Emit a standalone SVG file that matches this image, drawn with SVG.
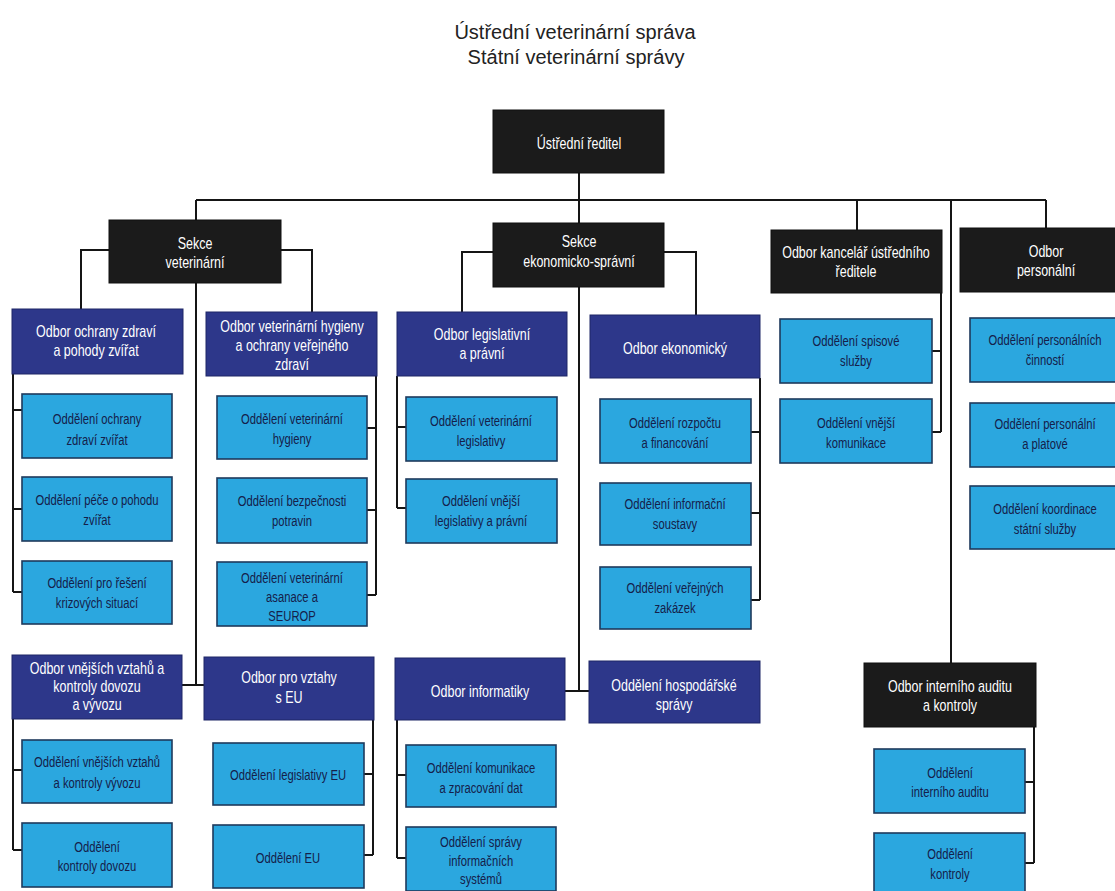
<svg xmlns="http://www.w3.org/2000/svg" width="1115" height="891" viewBox="0 0 1115 891">
<style>
.bg{fill:#ffffff}
.blk{fill:#1b1b1b;stroke:#111;stroke-width:1}
.nav{fill:#2d378a;stroke:#1f2766;stroke-width:1}
.lb{fill:#2ba7df;stroke:#1f3a5c;stroke-width:1.6}
.ttl{font-family:"Liberation Sans",Arial,sans-serif;font-size:20px;fill:#222;text-anchor:middle}
.th{font-family:"Liberation Sans",Arial,sans-serif;font-size:16px;fill:#ffffff;text-anchor:middle;dominant-baseline:central}
.tl{font-family:"Liberation Sans",Arial,sans-serif;font-size:14.6px;fill:#15204a;text-anchor:middle;dominant-baseline:central}
.con{fill:none;stroke:#151515;stroke-width:2}
</style>
<rect class="bg" x="0" y="0" width="1115" height="891"/>
<g id="title">
<text class="ttl" x="575" y="39">Ústřední veterinární správa</text>
<text class="ttl" x="576" y="64">Státní veterinární správy</text>
</g>
<g id="connectors">
<path class="con" d="M196,200 H1046 M579,173 V223 M196,200 V220 M857,200 V230 M1046,200 V228 M951,200 V663"/>
<path class="con" d="M109,250 H81 V309 M281,250 H312 V312 M196,283 V685 M182,685 H204"/>
<path class="con" d="M493,252 H462 V312 M664,252 H696 V315 M579,287 V691 M565,691 H589"/>
<path class="con" d="M13,374 V592 M13,410 H22 M13,509 H22 M13,592 H22"/>
<path class="con" d="M376,376 V595 M367,428 H376 M367,510 H376 M367,595 H376"/>
<path class="con" d="M397,376 V508 M397,427 H406 M397,508 H406"/>
<path class="con" d="M760,378 V600 M751,432 H760 M751,513 H760 M751,600 H760"/>
<path class="con" d="M941,293 V432 M932,351 H941 M932,432 H941"/>
<path class="con" d="M13,719 V850 M13,770 H22 M13,850 H22"/>
<path class="con" d="M373,720 V855 M364,774 H373 M364,855 H373"/>
<path class="con" d="M397,720 V858 M397,775 H406 M397,858 H406"/>
<path class="con" d="M1034,727 V863 M1025,782 H1034 M1025,863 H1034"/>
</g>
<g id="n-reditel"><rect class="blk" x="493" y="110" width="171" height="63"/>
<text class="th" transform="translate(579,0) scale(0.78,1)"><tspan x="0" y="143">Ústřední ředitel</tspan></text></g>
<g id="n-sekce-vet"><rect class="blk" x="109" y="220" width="172" height="63"/>
<text class="th" transform="translate(195,0) scale(0.78,1)"><tspan x="0" y="243">Sekce</tspan><tspan x="0" y="262">veterinární</tspan></text></g>
<g id="n-sekce-eko"><rect class="blk" x="493" y="223" width="171" height="64"/>
<text class="th" transform="translate(579,0) scale(0.78,1)"><tspan x="0" y="241">Sekce</tspan><tspan x="0" y="261">ekonomicko-správní</tspan></text></g>
<g id="n-kancelar"><rect class="blk" x="771" y="230" width="171" height="63"/>
<text class="th" transform="translate(856,0) scale(0.78,1)"><tspan x="0" y="252">Odbor kancelář ústředního</tspan><tspan x="0" y="271">ředitele</tspan></text></g>
<g id="n-personalni"><rect class="blk" x="960" y="228" width="172" height="64"/>
<text class="th" transform="translate(1046,0) scale(0.78,1)"><tspan x="0" y="251">Odbor</tspan><tspan x="0" y="270">personální</tspan></text></g>
<g id="n-ochrany"><rect class="nav" x="12" y="309" width="171" height="65"/>
<text class="th" transform="translate(96,0) scale(0.78,1)"><tspan x="0" y="331">Odbor ochrany zdraví</tspan><tspan x="0" y="350">a pohody zvířat</tspan></text></g>
<g id="n-hygieny"><rect class="nav" x="206" y="312" width="171" height="64"/>
<text class="th" transform="translate(292,0) scale(0.78,1)"><tspan x="0" y="326">Odbor veterinární hygieny</tspan><tspan x="0" y="345">a ochrany veřejného</tspan><tspan x="0" y="364">zdraví</tspan></text></g>
<g id="n-legislativni"><rect class="nav" x="397" y="312" width="170" height="64"/>
<text class="th" transform="translate(482,0) scale(0.78,1)"><tspan x="0" y="334">Odbor legislativní</tspan><tspan x="0" y="353">a právní</tspan></text></g>
<g id="n-ekonomicky"><rect class="nav" x="590" y="315" width="170" height="63"/>
<text class="th" transform="translate(675,0) scale(0.78,1)"><tspan x="0" y="348">Odbor ekonomický</tspan></text></g>
<g id="n-vnejsich"><rect class="nav" x="12" y="655" width="170" height="64"/>
<text class="th" transform="translate(97,0) scale(0.78,1)"><tspan x="0" y="668">Odbor vnějších vztahů a</tspan><tspan x="0" y="686">kontroly dovozu</tspan><tspan x="0" y="704">a vývozu</tspan></text></g>
<g id="n-vztahy-eu"><rect class="nav" x="204" y="657" width="170" height="63"/>
<text class="th" transform="translate(289,0) scale(0.78,1)"><tspan x="0" y="677">Odbor pro vztahy</tspan><tspan x="0" y="697">s EU</tspan></text></g>
<g id="n-informatiky"><rect class="nav" x="395" y="658" width="170" height="62"/>
<text class="th" transform="translate(480,0) scale(0.78,1)"><tspan x="0" y="691">Odbor informatiky</tspan></text></g>
<g id="n-hospodarske"><rect class="nav" x="589" y="661" width="171" height="62"/>
<text class="th" transform="translate(674,0) scale(0.78,1)"><tspan x="0" y="685">Oddělení hospodářské</tspan><tspan x="0" y="704">správy</tspan></text></g>
<g id="n-audit"><rect class="blk" x="864" y="663" width="172" height="64"/>
<text class="th" transform="translate(950,0) scale(0.78,1)"><tspan x="0" y="686">Odbor interního auditu</tspan><tspan x="0" y="705">a kontroly</tspan></text></g>

<g id="n-odd-ochrany"><rect class="lb" x="22" y="394" width="150" height="64"/>
<text class="tl" transform="translate(97,0) scale(0.77,1)"><tspan x="0" y="418">Oddělení ochrany</tspan><tspan x="0" y="439">zdraví zvířat</tspan></text></g>
<g id="n-odd-pece"><rect class="lb" x="22" y="477" width="150" height="64"/>
<text class="tl" transform="translate(97,0) scale(0.77,1)"><tspan x="0" y="499">Oddělení péče o pohodu</tspan><tspan x="0" y="519">zvířat</tspan></text></g>
<g id="n-odd-krize"><rect class="lb" x="22" y="561" width="150" height="63"/>
<text class="tl" transform="translate(97,0) scale(0.77,1)"><tspan x="0" y="582">Oddělení pro řešení</tspan><tspan x="0" y="602">krizových situací</tspan></text></g>
<g id="n-odd-vet-hyg"><rect class="lb" x="217" y="396" width="150" height="63"/>
<text class="tl" transform="translate(292,0) scale(0.77,1)"><tspan x="0" y="418">Oddělení veterinární</tspan><tspan x="0" y="438">hygieny</tspan></text></g>
<g id="n-odd-bezp"><rect class="lb" x="217" y="478" width="150" height="65"/>
<text class="tl" transform="translate(292,0) scale(0.77,1)"><tspan x="0" y="500">Oddělení bezpečnosti</tspan><tspan x="0" y="520">potravin</tspan></text></g>
<g id="n-odd-asanace"><rect class="lb" x="217" y="562" width="150" height="64"/>
<text class="tl" transform="translate(292,0) scale(0.77,1)"><tspan x="0" y="577">Oddělení veterinární</tspan><tspan x="0" y="596">asanace a</tspan><tspan x="0" y="615">SEUROP</tspan></text></g>
<g id="n-odd-vet-leg"><rect class="lb" x="406" y="397" width="151" height="64"/>
<text class="tl" transform="translate(481,0) scale(0.77,1)"><tspan x="0" y="420">Oddělení veterinární</tspan><tspan x="0" y="440">legislativy</tspan></text></g>
<g id="n-odd-vnejsi-leg"><rect class="lb" x="406" y="479" width="151" height="64"/>
<text class="tl" transform="translate(481,0) scale(0.77,1)"><tspan x="0" y="500">Oddělení vnější</tspan><tspan x="0" y="520">legislativy a právní</tspan></text></g>
<g id="n-odd-rozpoctu"><rect class="lb" x="600" y="399" width="151" height="64"/>
<text class="tl" transform="translate(675,0) scale(0.77,1)"><tspan x="0" y="422">Oddělení rozpočtu</tspan><tspan x="0" y="442">a financování</tspan></text></g>
<g id="n-odd-inf-soustavy"><rect class="lb" x="600" y="483" width="151" height="62"/>
<text class="tl" transform="translate(675,0) scale(0.77,1)"><tspan x="0" y="503">Oddělení informační</tspan><tspan x="0" y="523">soustavy</tspan></text></g>
<g id="n-odd-zakazek"><rect class="lb" x="600" y="567" width="151" height="62"/>
<text class="tl" transform="translate(675,0) scale(0.77,1)"><tspan x="0" y="587">Oddělení veřejných</tspan><tspan x="0" y="607">zakázek</tspan></text></g>
<g id="n-odd-spisove"><rect class="lb" x="780" y="319" width="152" height="64"/>
<text class="tl" transform="translate(856,0) scale(0.77,1)"><tspan x="0" y="340">Oddělení spisové</tspan><tspan x="0" y="360">služby</tspan></text></g>
<g id="n-odd-vnejsi-kom"><rect class="lb" x="780" y="399" width="152" height="64"/>
<text class="tl" transform="translate(856,0) scale(0.77,1)"><tspan x="0" y="422">Oddělení vnější</tspan><tspan x="0" y="442">komunikace</tspan></text></g>
<g id="n-odd-pers-cin"><rect class="lb" x="970" y="318" width="152" height="64"/>
<text class="tl" transform="translate(1045,0) scale(0.77,1)"><tspan x="0" y="339">Oddělení personálních</tspan><tspan x="0" y="359">činností</tspan></text></g>
<g id="n-odd-pers-plat"><rect class="lb" x="970" y="403" width="152" height="64"/>
<text class="tl" transform="translate(1045,0) scale(0.77,1)"><tspan x="0" y="423">Oddělení personální</tspan><tspan x="0" y="443">a platové</tspan></text></g>
<g id="n-odd-koord"><rect class="lb" x="970" y="486" width="152" height="63"/>
<text class="tl" transform="translate(1045,0) scale(0.77,1)"><tspan x="0" y="508">Oddělení koordinace</tspan><tspan x="0" y="528">státní služby</tspan></text></g>
<g id="n-odd-vnejsich-vztahu"><rect class="lb" x="22" y="740" width="150" height="63"/>
<text class="tl" transform="translate(97,0) scale(0.77,1)"><tspan x="0" y="761">Oddělení vnějších vztahů</tspan><tspan x="0" y="782">a kontroly vývozu</tspan></text></g>
<g id="n-odd-dovozu"><rect class="lb" x="22" y="823" width="150" height="64"/>
<text class="tl" transform="translate(97,0) scale(0.77,1)"><tspan x="0" y="846">Oddělení</tspan><tspan x="0" y="865">kontroly dovozu</tspan></text></g>
<g id="n-odd-leg-eu"><rect class="lb" x="213" y="743" width="151" height="62"/>
<text class="tl" transform="translate(288,0) scale(0.77,1)"><tspan x="0" y="774">Oddělení legislativy EU</tspan></text></g>
<g id="n-odd-eu"><rect class="lb" x="213" y="825" width="151" height="63"/>
<text class="tl" transform="translate(288,0) scale(0.77,1)"><tspan x="0" y="857">Oddělení EU</tspan></text></g>
<g id="n-odd-komunikace"><rect class="lb" x="406" y="745" width="150" height="62"/>
<text class="tl" transform="translate(481,0) scale(0.77,1)"><tspan x="0" y="767">Oddělení komunikace</tspan><tspan x="0" y="787">a zpracování dat</tspan></text></g>
<g id="n-odd-spravy-is"><rect class="lb" x="406" y="827" width="150" height="64"/>
<text class="tl" transform="translate(481,0) scale(0.77,1)"><tspan x="0" y="841">Oddělení správy</tspan><tspan x="0" y="860">informačních</tspan><tspan x="0" y="878">systémů</tspan></text></g>
<g id="n-odd-int-audit"><rect class="lb" x="874" y="749" width="151" height="64"/>
<text class="tl" transform="translate(950,0) scale(0.77,1)"><tspan x="0" y="772">Oddělení</tspan><tspan x="0" y="791">interního auditu</tspan></text></g>
<g id="n-odd-kontroly"><rect class="lb" x="874" y="833" width="151" height="60"/>
<text class="tl" transform="translate(950,0) scale(0.77,1)"><tspan x="0" y="853">Oddělení</tspan><tspan x="0" y="873">kontroly</tspan></text></g>
</svg>
